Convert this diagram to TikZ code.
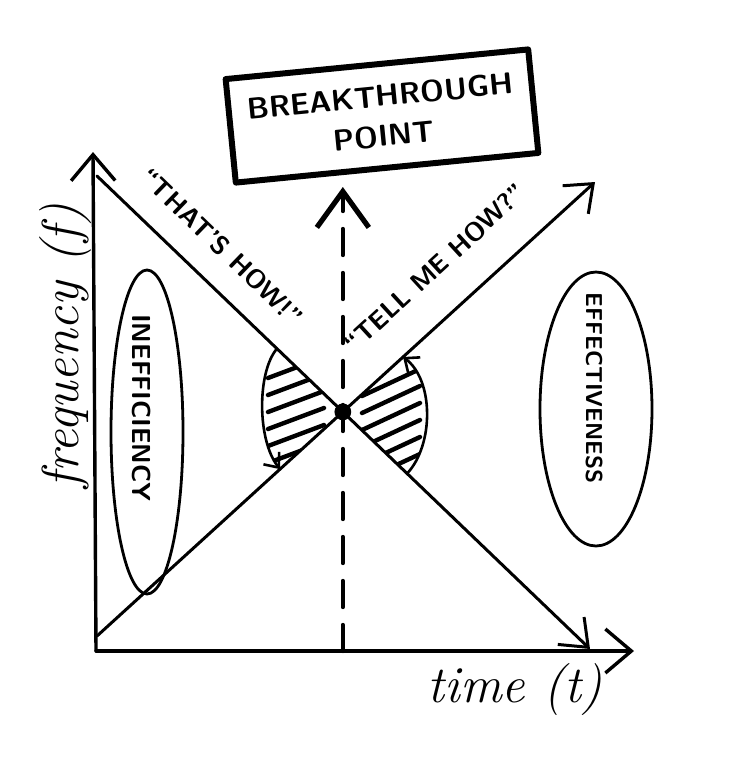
\documentclass[tikz,border=0pt]{standalone}
\usepackage{tikz}
\usetikzlibrary{arrows.meta,shapes.geometric,calc}

\begin{document}
\begin{tikzpicture}[x=0.5pt, y=-0.5pt, line cap=round, line join=round,
  axis/.style={line width=1.7pt, -{Straight Barb[length=13pt,width=22pt]}},
  trend/.style={line width=1.5pt, -{Straight Barb[length=12pt,width=19pt]}},
  lensline/.style={line width=1.3pt},
  hatch/.style={line width=2.2pt},
  oval/.style={draw, ellipse, line width=1.4pt, inner sep=0pt},
  caps/.style={font=\sffamily\bfseries\fontsize{13}{15}\selectfont, inner sep=1pt},
  hand/.style={font=\itshape\fontsize{26}{30}\selectfont},
  bpbox/.style={draw, line width=3pt, minimum width=152pt, minimum height=52pt,
    align=center, font=\sffamily\bfseries\fontsize{15}{20}\selectfont}]
  \useasboundingbox (0,0) rectangle (740,768);
  % axes
  \coordinate (O) at (96,651);
  \coordinate (ytop) at (93,152);
  \coordinate (xend) at (634,651);
  \draw[axis] (O) -- (ytop);
  \draw[axis] (O) -- (xend);
  \node[hand, rotate=90] (freq) at (66,346) {frequency (f)};
  \node[hand] (time) at (515,690) {time (t)};
  % the two trend lines and where they cross
  \coordinate (d1) at (97,176);  \coordinate (d2) at (590,649);
  \coordinate (u1) at (97,636);  \coordinate (u2) at (595,182);
  \draw[trend] (d1) -- (d2);
  \draw[trend] (u1) -- (u2);
  \coordinate (X) at (intersection of d1--d2 and u1--u2);
  \node[caps, rotate=-44] (thats) at (222,247) {``THAT'S HOW!''};
  \node[caps, rotate=42.5] (tell) at (435,268) {``TELL ME HOW?''};
  % breakthrough box and dashed arrow
  \node[bpbox, rotate=5.6] (bp) at (382,116) {BREAKTHROUGH\\POINT};
  \coordinate (foot) at (X |- O);
  \coordinate (tip) at ($(X |- 0,187)$);
  \draw[line width=2.2pt, dash pattern=on 13pt off 9pt,
    -{Straight Barb[length=18pt,width=26pt,line width=2.6pt]}] (foot) -- (tip);
  \fill (X) circle (4.2pt);
  % hatched lenses
  \coordinate (P1) at ($(d1)!0.365!(d2)$);
  \coordinate (P2) at ($(u1)!0.3675!(u2)$);
  \coordinate (Q1) at ($(u1)!0.6145!(u2)$);
  \coordinate (Q2) at ($(d1)!0.629!(d2)$);
  \begin{scope}
    \clip (P1) .. controls (257,372) and (257,440) .. (P2) -- (X) -- cycle;
    \foreach \k in {0,...,6}
      \draw[hatch] (268,378+17*\k) -- +(56,-21);
  \end{scope}
  \begin{scope}
    \clip (Q1) .. controls (434,380) and (434,445) .. (Q2) -- (X) -- cycle;
    \foreach \k in {0,...,6}
      \draw[hatch] (362,396+17*\k) -- +(58,-27);
  \end{scope}
  \draw[lensline, -{Straight Barb[length=6pt,width=10pt]}]
    (P1) .. controls (257,372) and (257,440) .. (P2);
  \draw[lensline, {Straight Barb[length=6pt,width=10pt]}-]
    (Q1) .. controls (434,380) and (434,445) .. (Q2);
  % ovals
  \node[oval, minimum width=36pt, minimum height=162pt] (ineffOval) at (147,432) {};
  \node[caps, rotate=-90] (ineff) at (142,408) {INEFFICIENCY};
  \node[oval, minimum width=56pt, minimum height=137pt] (effOval) at (596,409) {};
  \node[caps, rotate=-90, font=\sffamily\bfseries\fontsize{11.5}{14}\selectfont]
    (eff) at (594,388) {EFFECTIVENESS};
\end{tikzpicture}
\end{document}
